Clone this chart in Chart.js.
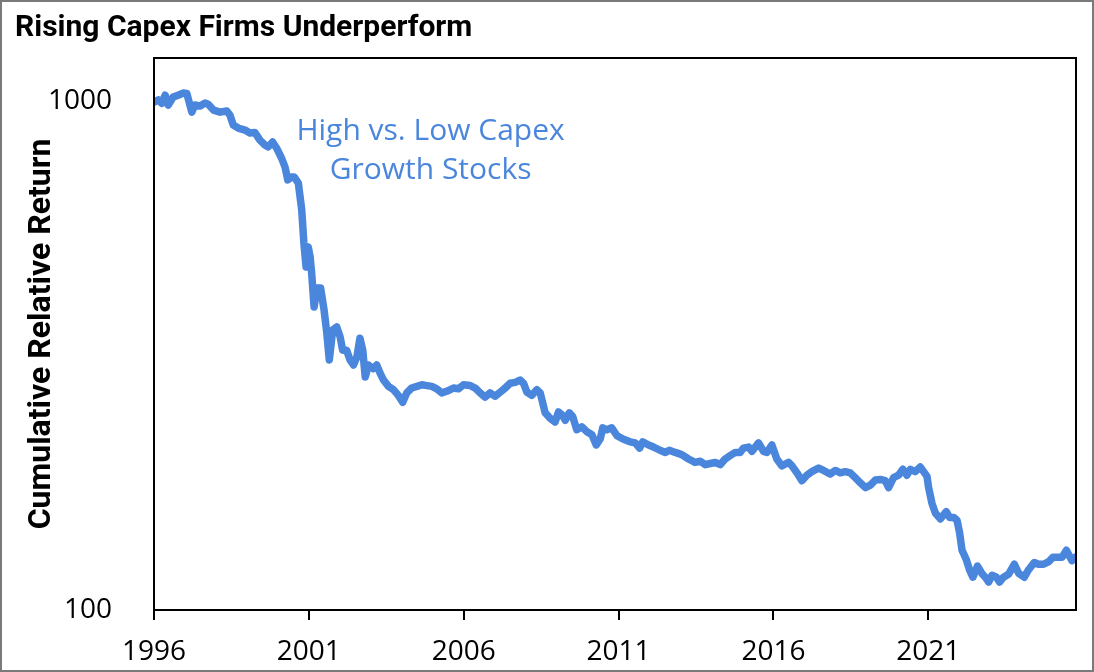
<!DOCTYPE html>
<html>
<head>
<meta charset="utf-8">
<title>Rising Capex Firms Underperform</title>
<script src="https://cdn.jsdelivr.net/npm/chart.js@4.4.0/dist/chart.umd.min.js"></script>
<style>
  html, body { margin: 0; padding: 0; background: #fff; }
  #wrap { position: relative; width: 1094px; height: 672px; }
  #capexChart { display: block; }
  #frame {
    position: absolute; left: 0; top: 0;
    width: 1094px; height: 672px;
    box-sizing: border-box;
    border: 2px solid #7a7a7a;
    pointer-events: none;
  }
</style>
</head>
<body>
<div id="wrap">
  <canvas id="capexChart" width="1094" height="672"></canvas>
  <div id="frame"></div>
</div>
<script>
/* -----------------------------------------------
   Data (decimal years)
   ----------------------------------------------- */
const years = [
  1996.00, 1996.14, 1996.25, 1996.36, 1996.46, 1996.62, 1996.78, 1996.95,
  1997.06, 1997.22, 1997.32, 1997.49, 1997.65, 1997.75, 1997.92,
  1998.13, 1998.35, 1998.45, 1998.56, 1998.72, 1998.94,
  1999.10, 1999.26, 1999.42, 1999.59, 1999.69, 1999.83, 1999.96,
  2000.12, 2000.23, 2000.32, 2000.43, 2000.53, 2000.66, 2000.77, 2000.84, 2000.91, 2000.98,
  2001.04, 2001.09, 2001.17, 2001.26, 2001.38, 2001.49, 2001.58, 2001.66, 2001.77, 2001.90,
  2002.01, 2002.09, 2002.22, 2002.33, 2002.44, 2002.55, 2002.65, 2002.74, 2002.82, 2002.92,
  2003.08, 2003.19, 2003.30, 2003.41, 2003.57, 2003.73, 2003.89,
  2004.03, 2004.16, 2004.32, 2004.49, 2004.65, 2004.81, 2004.97,
  2005.13, 2005.29, 2005.45, 2005.67, 2005.83, 2005.99,
  2006.21, 2006.37, 2006.53, 2006.69, 2006.85,
  2007.01, 2007.18, 2007.34, 2007.50, 2007.66, 2007.82, 2007.93,
  2008.04, 2008.20, 2008.36, 2008.47, 2008.63, 2008.79, 2008.95,
  2009.06, 2009.17, 2009.28, 2009.41, 2009.52, 2009.65, 2009.81, 2009.98,
  2010.14, 2010.28, 2010.41, 2010.49, 2010.62, 2010.78, 2010.95,
  2011.16, 2011.37, 2011.54, 2011.68, 2011.78, 2011.97,
  2012.13, 2012.34, 2012.51, 2012.64, 2012.83,
  2013.04, 2013.26, 2013.47, 2013.64, 2013.80, 2013.96,
  2014.12, 2014.28, 2014.44, 2014.60, 2014.77, 2014.93,
  2015.03, 2015.20, 2015.31, 2015.52, 2015.68, 2015.79, 2015.95,
  2016.11, 2016.27, 2016.49, 2016.60, 2016.76, 2016.92,
  2017.08, 2017.24, 2017.46, 2017.62, 2017.83,
  2018.00, 2018.16, 2018.32, 2018.48, 2018.64, 2018.80, 2018.97,
  2019.13, 2019.29, 2019.45, 2019.61, 2019.72, 2019.88,
  2020.04, 2020.18, 2020.31, 2020.42, 2020.58, 2020.74, 2020.85, 2020.96,
  2021.01, 2021.12, 2021.23, 2021.39, 2021.58, 2021.69, 2021.82, 2021.93,
  2022.01, 2022.09, 2022.23, 2022.33, 2022.44, 2022.59, 2022.73, 2022.84, 2022.95,
  2023.06, 2023.20, 2023.30, 2023.43, 2023.59, 2023.78, 2023.92,
  2024.10, 2024.24, 2024.42, 2024.56, 2024.72, 2024.89,
  2025.03, 2025.21, 2025.32, 2025.46, 2025.64, 2025.75
];

const relReturn = [
  995, 1005, 990, 1027, 982, 1018, 1027, 1037,
  1035, 951, 982, 978, 991, 986, 960,
  951, 956, 939, 897, 885, 877,
  865, 867, 838, 819, 813, 831, 808,
  772, 742, 700, 709, 709, 690, 611, 526, 472, 517,
  494, 459, 394, 429, 429, 389, 350, 310, 355, 360,
  344, 324, 324, 310, 303, 314, 342, 324, 287, 303,
  298, 303, 292, 283, 275, 271, 264,
  256, 267, 273, 275, 277, 276, 275,
  272, 267, 269, 273, 272, 277,
  276, 273, 267, 262, 267,
  263, 268, 273, 279, 280, 283, 279,
  268, 264, 271, 267, 244, 238, 234,
  245, 242, 236, 244, 240, 226, 229, 224,
  221, 211, 217, 228, 226, 228, 220,
  216.5, 214, 213, 208, 214, 211,
  209, 206, 204, 206, 204,
  202, 198, 195, 196, 193, 194,
  195, 193, 198, 201, 204, 204,
  208, 209, 205, 213, 205, 204, 211,
  198, 192, 195, 192, 186, 179.5,
  184, 187, 190, 188, 185,
  188, 186, 187, 186, 182, 178, 174,
  176, 180, 180.5, 179.5, 174, 182,
  184, 189, 184, 189, 187, 191, 187, 183,
  174, 162, 155, 151, 156, 152, 152, 150,
  142, 131, 125.5, 120, 116, 122, 118, 116, 113.5,
  117, 116, 113.5, 116, 117.5, 123, 118,
  116, 120, 124, 123, 123, 124.5,
  127, 127, 127, 131, 125, 127
];

const xTicks = [1996, 2001, 2006, 2011, 2016, 2021];
const yTicks = [100, 1000];
const noteLines = ["High vs. Low Capex", "Growth Stocks"];

const lineBlue = "#4A86DC";

/* plot frame on all four sides */
const plotBox = {
    id: "plotBox",
    afterDraw(chart) {
        const { ctx, chartArea: a } = chart;
        ctx.save();
        ctx.strokeStyle = "#000";
        ctx.lineWidth = 2;
        ctx.strokeRect(a.left, a.top, a.right - a.left, a.bottom - a.top);
        ctx.restore();
    }
};

/* series label inside the plot */
const seriesNote = {
    id: "seriesNote",
    afterDatasetsDraw(chart) {
        const { ctx, scales } = chart;
        const px = scales.x.getPixelForValue(2004.93);
        const py = scales.y.getPixelForValue(838);
        ctx.save();
        ctx.font = '500 30px "Open Sans"';
        ctx.fillStyle = lineBlue;
        ctx.textAlign = "center";
        ctx.textBaseline = "alphabetic";
        noteLines.forEach((t, i) => ctx.fillText(t, px, py + i * 39));
        ctx.restore();
    }
};

new Chart(document.getElementById("capexChart"), {
    type: "line",
    data: {
        datasets: [{
            label: "High vs. Low Capex Growth Stocks",
            data: years.map((yr, i) => ({ x: yr, y: relReturn[i] })),
            borderColor: lineBlue,
            borderWidth: 7.5,
            pointRadius: 0,
            tension: 0,
            fill: false,
            borderJoinStyle: "round",
            borderCapStyle: "round"
        }]
    },
    options: {
        responsive: false,
        animation: false,
        layout: { padding: { left: 15, right: 18, top: 10, bottom: 0 } },
        plugins: {
            legend: { display: false },
            tooltip: { enabled: false },
            title: {
                display: true,
                text: "Rising Capex Firms Underperform",
                align: "start",
                color: "#000",
                font: { family: "Roboto", size: 30, weight: "bold" },
                padding: { top: 0, bottom: 12 }
            }
        },
        scales: {
            x: {
                type: "linear",
                min: 1996,
                max: 2025.77,
                afterBuildTicks: s => { s.ticks = xTicks.map(v => ({ value: v })); },
                afterFit: s => { s.height = 62; },
                ticks: {
                    color: "#000",
                    font: { family: "Open Sans", size: 28 },
                    padding: 15,
                    maxRotation: 0,
                    autoSkip: false,
                    callback: v => String(v)
                },
                grid: {
                    drawOnChartArea: false,
                    drawTicks: true,
                    tickLength: 10,
                    color: "#000",
                    lineWidth: 2
                },
                border: { display: false }
            },
            y: {
                type: "logarithmic",
                min: 100,
                max: 1215,
                afterBuildTicks: s => { s.ticks = yTicks.map(v => ({ value: v })); },
                afterFit: s => { s.width = 139; },
                ticks: {
                    color: "#000",
                    font: { family: "Open Sans", size: 28 },
                    padding: 34,
                    callback: v => String(v)
                },
                grid: { display: false },
                border: { display: false },
                title: {
                    display: true,
                    text: "Cumulative Relative Return",
                    color: "#000",
                    font: { family: "Roboto", size: 32, weight: "bold" },
                    padding: { top: 8, bottom: 0 }
                }
            }
        }
    },
    plugins: [plotBox, seriesNote]
});
</script>
</body>
</html>
